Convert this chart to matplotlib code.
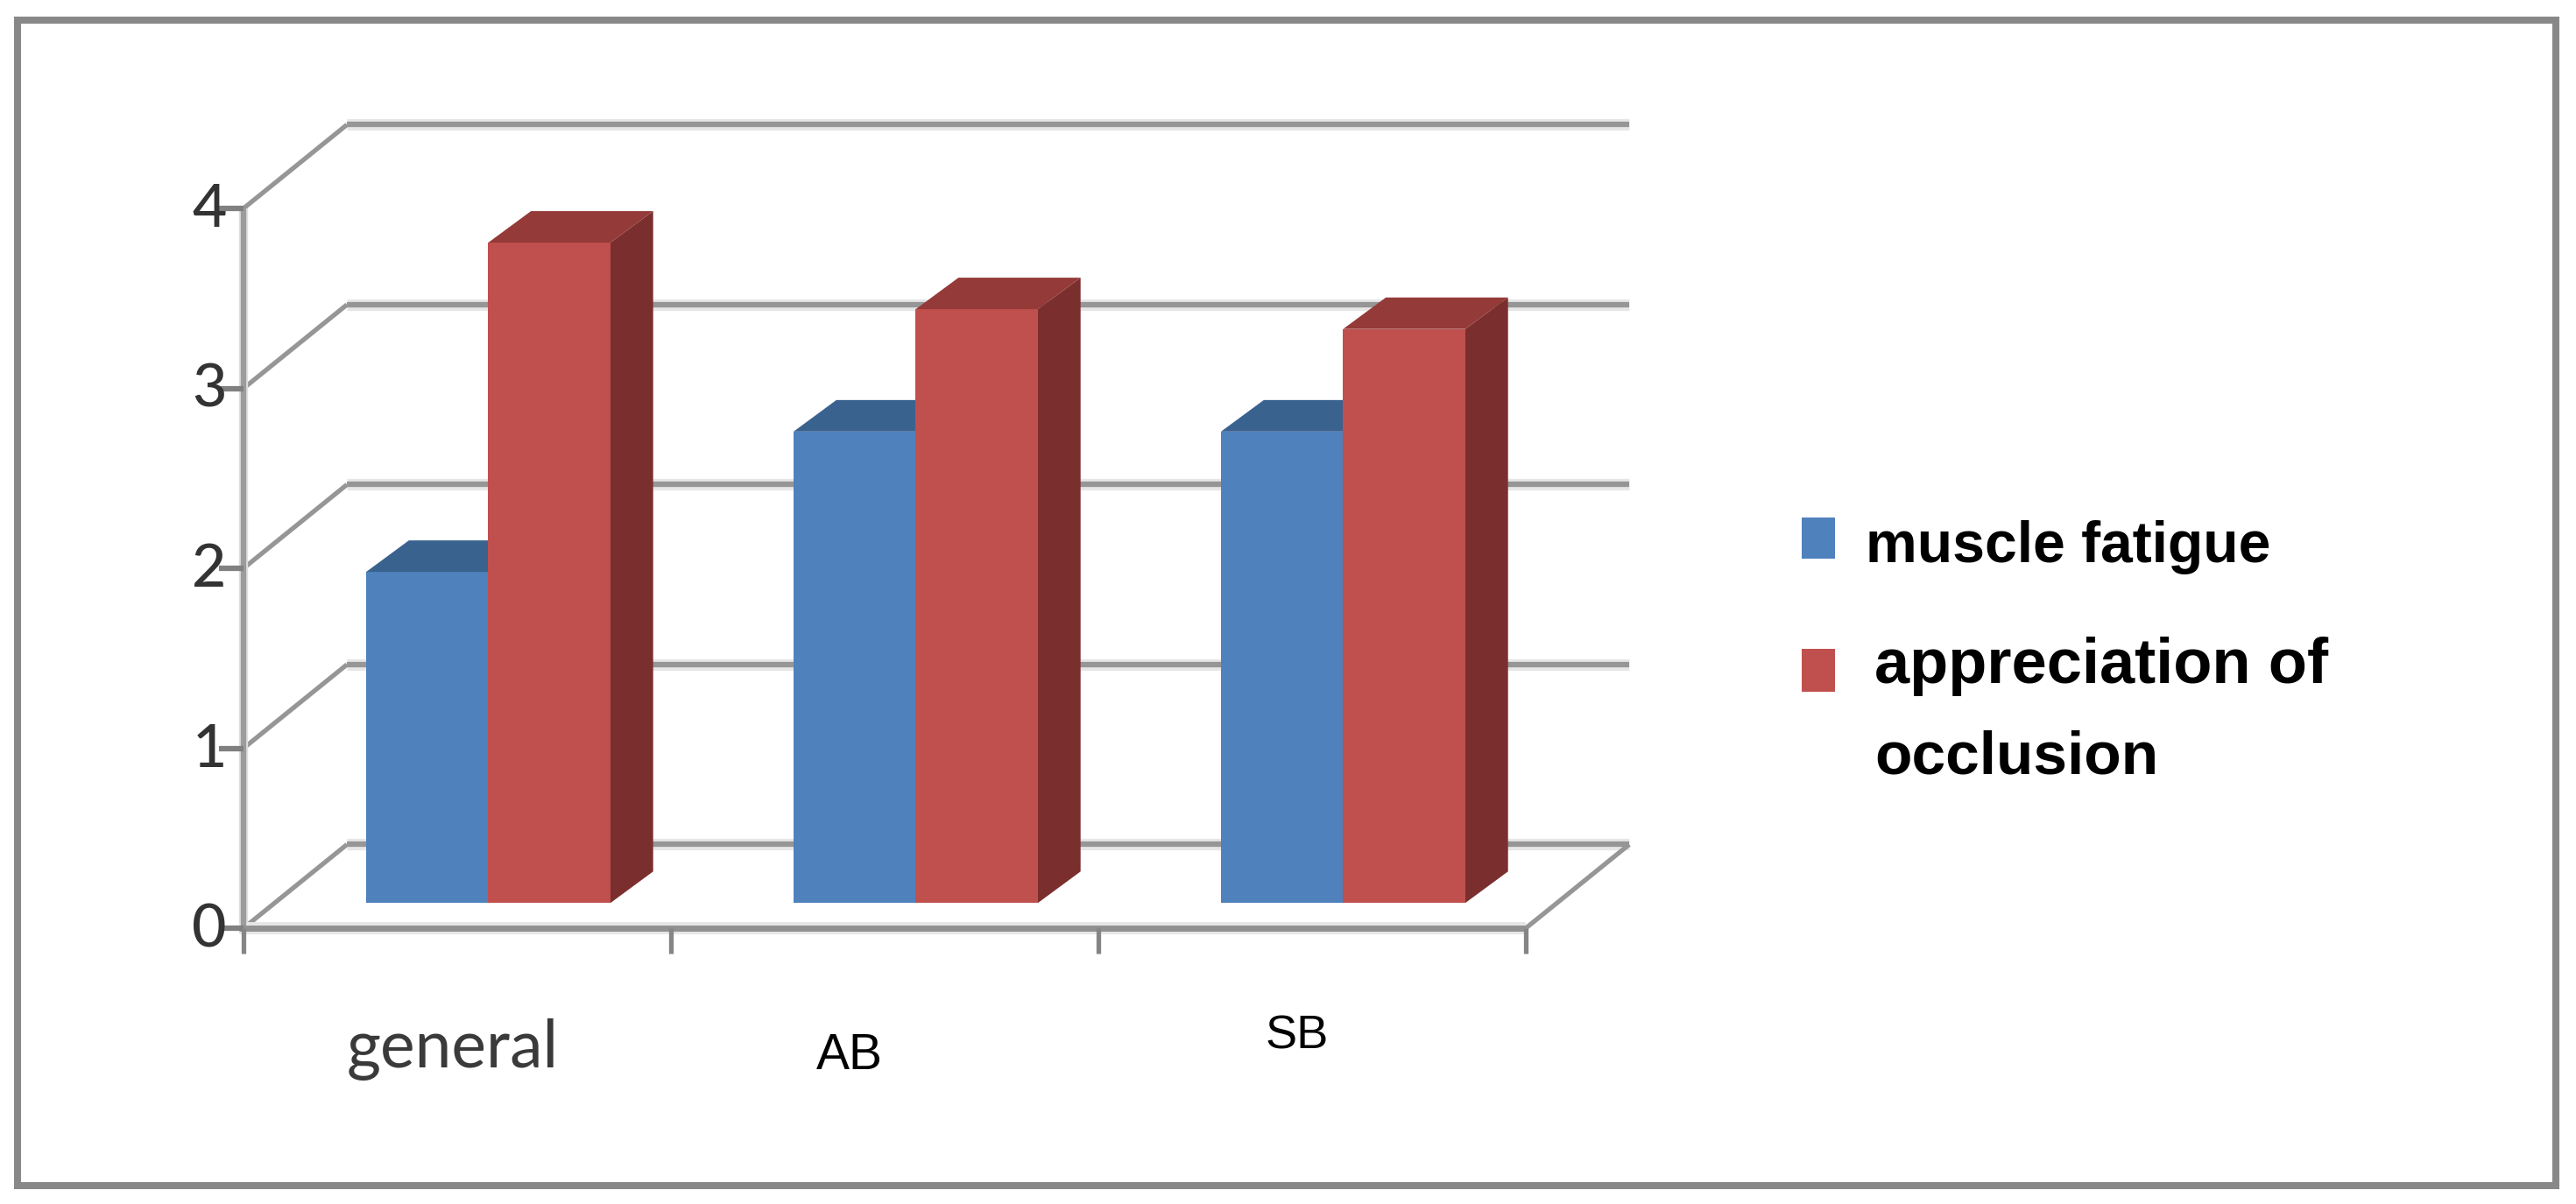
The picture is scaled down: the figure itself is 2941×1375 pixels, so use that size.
import numpy as np
import matplotlib
matplotlib.use("Agg")
import matplotlib.pyplot as plt
from matplotlib.patches import Rectangle, Polygon

categories = ["general", "AB", "SB"]
muscle_fatigue = [1.84, 2.62, 2.62]
appreciation = [3.67, 3.30, 3.19]
y_ticks = [0, 1, 2, 3, 4]

W, H = 2941, 1375
# front plane of the fake 3d box, in pixels
ax_left, ax_right, ax_top, ax_bottom = 278, 1742, 238, 1060

fig = plt.figure(figsize=(W / 100, H / 100), dpi=100)
ax = fig.add_axes([ax_left / W, 1 - ax_bottom / H, (ax_right - ax_left) / W, (ax_bottom - ax_top) / H])
ax.set_xlim(0, 3)
ax.set_ylim(0, 4)
ax.patch.set_visible(False)
for s in ax.spines.values():
    s.set_visible(False)
ax.set_xticks([])
ax.set_yticks([])

# depth of the box and of the bars, data units
box_dx, box_dy = 0.242, 0.465
bar_dx, bar_dy = 0.1, 0.175
floor = 0.14
bar_w = 0.2857
start = 0.287
grid_c = "#969696"
halo_c = "#e6e6e6"

def line(xs, ys, c=grid_c, lw=4.5, z=1):
    ax.plot(xs, ys, color=c, lw=lw, clip_on=False, zorder=z, solid_capstyle="butt", solid_joinstyle="miter")

# back wall grid and the slanted side lines
for v in y_ticks:
    by = v + box_dy
    line([box_dx, 3 + box_dx], [by, by], c=halo_c, lw=9.5, z=0.5)
    line([box_dx, 3 + box_dx], [by, by])
    line([0, box_dx], [v, by], lw=3.8)
line([3, 3 + box_dx], [0, box_dy], lw=3.8)

# axes
line([0, 0], [0, 4], c="#dedede", lw=7.5, z=1.3)
line([0, 0], [0, 4], c="#9c9c9c", lw=4.5, z=1.5)
line([-0.01, 3], [0, 0], c=halo_c, lw=10, z=1.4)
line([-0.01, 3], [0, 0], c="#919191", lw=5, z=1.5)
for v in y_ticks:
    line([-0.057, 0], [v, v], c="#808080", lw=4.5, z=1.6)
    ax.text(-0.08, v - 0.012, str(v), ha="center", va="center", fontsize=49, family="Lato", weight="medium",
            color="#333333")
for i in range(4):
    line([i, i], [0, -0.14], c="#858585", lw=3.8, z=1.6)

# bars
def bars(x, vals, front, top, side):
    ax.bar(x, vals, width=bar_w, bottom=floor, align="edge", color=front, zorder=3, clip_on=False)
    for xi, v in zip(x, vals):
        yt = floor + v
        ax.add_patch(Polygon([(xi, yt), (xi + bar_dx, yt + bar_dy), (xi + bar_w + bar_dx, yt + bar_dy),
                              (xi + bar_w, yt)], closed=True, fc=top, ec="none", zorder=3, clip_on=False))
        ax.add_patch(Polygon([(xi + bar_w, floor), (xi + bar_w + bar_dx, floor + bar_dy),
                              (xi + bar_w + bar_dx, yt + bar_dy), (xi + bar_w, yt)],
                             closed=True, fc=side, ec="none", zorder=2.9, clip_on=False))

pos = np.arange(3) + start
bars(pos, muscle_fatigue, "#4f81bd", "#3a628f", "#2f5079")
bars(pos + bar_w, appreciation, "#c0504d", "#943a38", "#7a2f2e")

# category labels
ax.text(0.49, -0.774, categories[0], ha="center", va="baseline", fontsize=54, family="Lato", color="#3a3a3a")
ax.text(1.418, -0.783, categories[1], ha="center", va="baseline", fontsize=41, family="Liberation Sans", color="black")
ax.text(2.465, -0.67, categories[2], ha="center", va="baseline", fontsize=39, family="Liberation Sans", color="black")

# legend and outer frame in figure pixels
def fx(p):
    return p / W
def fy(p):
    return 1 - p / H

fig.add_artist(Rectangle((fx(2057), fy(638)), 38 / W, 47 / H, transform=fig.transFigure, fc="#4f81bd", ec="none"))
fig.add_artist(Rectangle((fx(2057), fy(790)), 38 / W, 49 / H, transform=fig.transFigure, fc="#c0504d", ec="none"))
fig.text(fx(2130), fy(642), "muscle fatigue", fontsize=47.5, family="Liberation Sans", weight="bold", va="baseline", color="black")
fig.text(fx(2140), fy(780), "appreciation of", fontsize=52, family="Liberation Sans", weight="bold", va="baseline", color="black")
fig.text(fx(2140), fy(883), "occlusion", fontsize=50, family="Liberation Sans", weight="bold", va="baseline", color="black")

fig.add_artist(Rectangle((fx(20), fy(1354)), (2918 - 20) / W, (1354 - 23) / H, transform=fig.transFigure,
                         fc="none", ec="#888888", lw=5.8))

fig.savefig("out.png", dpi=100)
